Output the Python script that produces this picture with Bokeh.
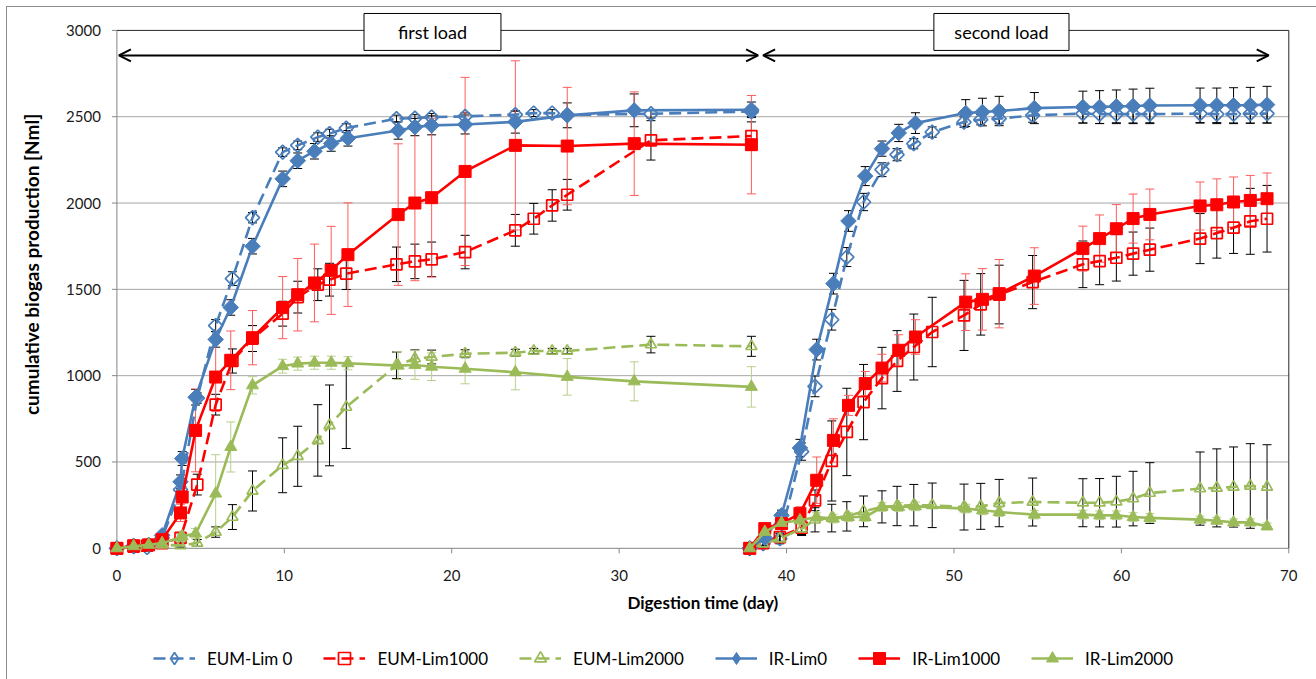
import numpy as np
from bokeh.plotting import figure
from bokeh.models import (ColumnDataSource, Whisker, TeeHead, Arrow, OpenHead,
                          Legend, LegendItem, Range1d, InlineStyleSheet)
from bokeh.core.properties import value
from bokeh.embed import file_html
from bokeh.resources import INLINE

FONT = "Lato"

x_ticks = [0, 10, 20, 30, 40, 50, 60, 70]
y_ticks = [0, 500, 1000, 1500, 2000, 2500, 3000]

# ---------------- first load ----------------
ir_days_1 = [0, 1.0, 1.9, 2.7, 3.8, 3.9, 4.7, 5.9, 6.8, 8.1, 9.9, 10.8, 11.8, 12.8, 13.8,
             16.8, 17.8, 18.8, 20.8, 23.8, 26.9, 30.9, 37.9]
eum_days_1 = [0, 1.0, 1.8, 2.7, 3.8, 4.8, 5.9, 6.9, 8.1, 9.9, 10.8, 12.0, 12.7, 13.7,
              16.7, 17.8, 18.8, 20.8, 23.8, 24.9, 26.0, 26.9, 31.9, 37.9]

ir_lim0_1 = [0, 15, 20, 75, 385, 520, 875, 1210, 1395, 1750, 2140, 2245, 2300, 2345, 2375,
             2420, 2440, 2450, 2455, 2470, 2508, 2537, 2540]
ir_lim0_err_1 = [0, 5, 5, 15, 40, 40, 45, 45, 45, 45, 45, 45, 45, 45, 45, 50, 50, 55, 55, 65,
                 72, 95, 45]
ir_lim1000_1 = [0, 15, 20, 50, 205, 297, 683, 992, 1089, 1220, 1394, 1469, 1537, 1610, 1701,
                1933, 2000, 2031, 2183, 2334, 2330, 2344, 2338]
ir_lim1000_err_1 = [0, 10, 10, 20, 50, 60, 240, 200, 170, 157, 180, 210, 225, 255, 300, 410,
                    450, 460, 545, 490, 340, 300, 285]
ir_lim2000_1 = [0, 12, 20, 30, 62, 70, 85, 317, 587, 944, 1055, 1070, 1075, 1075, 1072, 1058,
                1062, 1052, 1040, 1020, 993, 967, 935]
ir_lim2000_err_1 = [0, 5, 5, 10, 20, 20, 30, 225, 145, 50, 40, 38, 38, 38, 38, 80, 83, 80, 87,
                    102, 106, 113, 117]

eum_lim0_1 = [0, 10, 5, 60, 340, 870, 1290, 1562, 1915, 2295, 2334, 2382, 2402, 2434, 2489,
              2492, 2498, 2502, 2512, 2521, 2521, 2510, 2517, 2530]
eum_lim0_err_1 = [0, 5, 5, 10, 30, 30, 35, 40, 30, 25, 25, 25, 25, 25, 20, 20, 20, 20, 20, 20,
                  20, 20, 25, 30]
eum_lim1000_1 = [0, 10, 15, 30, 60, 369, 832, 1085, 1215, 1359, 1455, 1527, 1556, 1591, 1645,
                 1662, 1674, 1716, 1842, 1909, 1986, 2048, 2363, 2388]
eum_lim1000_err_1 = [0, 5, 5, 10, 30, 60, 60, 70, 75, 72, 92, 92, 95, 92, 100, 100, 100, 97,
                     92, 89, 91, 89, 114, 82]
eum_lim2000_1 = [0, 5, 10, 20, 17, 31, 94, 181, 332, 481, 533, 625, 712, 818, 1060, 1099, 1108,
                 1127, 1133, 1143, 1143, 1143, 1180, 1170]
eum_lim2000_err_1 = [0, 5, 5, 10, 10, 20, 30, 72, 116, 159, 174, 207, 234, 240, 77, 50, 40, 23,
                     20, 15, 15, 15, 48, 58]

# ---------------- second load ----------------
ir_days_2 = [37.8, 38.7, 39.7, 40.8, 41.8, 42.8, 43.7, 44.7, 45.7, 46.7, 47.7, 50.7, 51.7,
             52.7, 54.8, 57.7, 58.7, 59.7, 60.7, 61.7, 64.7, 65.7, 66.7, 67.7, 68.7]
eum_days_2 = [37.8, 38.6, 39.6, 40.9, 41.7, 42.7, 43.6, 44.6, 45.7, 46.6, 47.6, 48.7, 50.6,
              51.6, 52.7, 54.7, 57.7, 58.7, 59.7, 60.7, 61.7, 64.7, 65.7, 66.7, 67.7, 68.7]

ir_lim0_2 = [0, 60, 191, 581, 1151, 1533, 1896, 2156, 2315, 2406, 2463, 2521, 2527, 2533, 2550,
             2556, 2556, 2560, 2562, 2565, 2566, 2566, 2566, 2566, 2570]
ir_lim0_err_2 = [0, 20, 30, 50, 60, 60, 60, 55, 44, 50, 60, 78, 80, 85, 90, 92, 95, 95, 98, 100,
                 100, 100, 102, 104, 106]
ir_lim1000_2 = [0, 114, 143, 201, 394, 625, 828, 954, 1044, 1147, 1224, 1426, 1442, 1475, 1577,
                1736, 1794, 1851, 1910, 1934, 1983, 1990, 2006, 2015, 2025]
ir_lim1000_err_2 = [0, 20, 30, 40, 135, 125, 58, 70, 80, 90, 100, 164, 178, 198, 164, 130, 137,
                    140, 142, 147, 139, 150, 145, 145, 149]
ir_lim2000_2 = [0, 95, 147, 162, 181, 172, 181, 181, 239, 239, 243, 230, 220, 210, 195, 195, 191,
                191, 181, 176, 166, 160, 150, 150, 127]
ir_lim2000_err_2 = [0, 30, 30, 25, 25, 25, 25, 25, 25, 25, 25, 25, 25, 25, 25, 25, 25, 25, 25,
                    25, 20, 20, 20, 20, 20]

eum_lim0_2 = [0, 27, 56, 560, 938, 1324, 1687, 2006, 2193, 2280, 2344, 2411, 2469, 2483, 2489,
              2508, 2518, 2515, 2515, 2515, 2515, 2518, 2515, 2515, 2518, 2518]
eum_lim0_err_2 = [0, 10, 15, 50, 60, 60, 55, 50, 40, 35, 30, 30, 30, 30, 30, 40, 55, 55, 55, 55,
                  55, 55, 55, 55, 55, 55]
eum_lim1000_2 = [0, 30, 65, 120, 278, 506, 674, 847, 986, 1085, 1166, 1253, 1349, 1413, 1470,
                 1542, 1645, 1664, 1683, 1707, 1730, 1794, 1826, 1857, 1894, 1909]
eum_lim1000_err_2 = [0, 20, 30, 40, 60, 232, 253, 218, 178, 176, 191, 201, 203, 178, 170, 154,
                     135, 137, 135, 125, 125, 145, 145, 149, 191, 193]
eum_lim2000_2 = [0, 27, 56, 114, 165, 175, 185, 214, 240, 245, 250, 249, 239, 243, 262, 268, 264,
                 264, 270, 288, 320, 346, 350, 355, 361, 355]
eum_lim2000_err_2 = [0, 20, 30, 40, 70, 80, 85, 89, 93, 114, 120, 129, 133, 133, 137, 139, 139,
                     140, 147, 158, 176, 212, 226, 232, 245, 245]

BLUE = "#4a7ebb"
RED = "#ff0000"
GREEN = "#9bbb59"

series = [
    # label, days (load1, load2), values, errors, colour, dashed, marker, filled, error colour
    ("EUM-Lim 0", (eum_days_1, eum_days_2), (eum_lim0_1, eum_lim0_2),
     (eum_lim0_err_1, eum_lim0_err_2), BLUE, True, "diamond", False, "#000000"),
    ("EUM-Lim1000", (eum_days_1, eum_days_2), (eum_lim1000_1, eum_lim1000_2),
     (eum_lim1000_err_1, eum_lim1000_err_2), RED, True, "square", False, "#000000"),
    ("EUM-Lim2000", (eum_days_1, eum_days_2), (eum_lim2000_1, eum_lim2000_2),
     (eum_lim2000_err_1, eum_lim2000_err_2), GREEN, True, "triangle", False, "#000000"),
    ("IR-Lim0", (ir_days_1, ir_days_2), (ir_lim0_1, ir_lim0_2),
     (ir_lim0_err_1, ir_lim0_err_2), BLUE, False, "diamond", True, "#000000"),
    ("IR-Lim1000", (ir_days_1, ir_days_2), (ir_lim1000_1, ir_lim1000_2),
     (ir_lim1000_err_1, ir_lim1000_err_2), RED, False, "square", True, "#ff5c5c"),
    ("IR-Lim2000", (ir_days_1, ir_days_2), (ir_lim2000_1, ir_lim2000_2),
     (ir_lim2000_err_1, ir_lim2000_err_2), GREEN, False, "triangle", True, "#b7cf8c"),
]

# The whole canvas is the plotting frame; axes, titles and legend are drawn inside it.
W, H = 1316, 679
PX_X0, PX_X70 = 116.4, 1288.3      # canvas x of day 0 and day 70
PX_Y0, PX_Y3000 = 547.8, 29.9      # canvas y of 0 and 3000 Nml
sx = (PX_X70 - PX_X0) / 70.0
sy = (PX_Y0 - PX_Y3000) / 3000.0
x_rng = Range1d(-PX_X0 / sx, (W - PX_X0) / sx)
y_rng = Range1d(-(H - PX_Y0) / sy, PX_Y0 / sy)

p = figure(frame_width=W, frame_height=H, x_range=x_rng, y_range=y_rng,
           x_axis_location=None, y_axis_location=None,
           min_border=0, min_border_left=0, min_border_right=0, min_border_top=0,
           min_border_bottom=0, toolbar_location=None, output_backend="svg")
p.outline_line_color = None
p.xgrid.visible = False
p.ygrid.visible = False
p.background_fill_color = "white"
p.border_fill_color = "white"
# thin grey frame around the whole chart area
p.stylesheets = [InlineStyleSheet(css=(
    ":host { position: relative; }"
    ":host::after { content: ''; position: absolute; left: 6px; top: 6px; right: 0px;"
    " bottom: 0px; border-left: 1px solid #8c8c8c; border-top: 1px solid #8c8c8c;"
    " pointer-events: none; z-index: 100; }"))]


def px_x(n):
    return n / sx


def px_y(n):
    return n / sy


AX = "#868686"
x_max = x_ticks[-1]
y_max = y_ticks[-1]
inner = y_ticks[1:-1]
# gridlines, axis lines, plot-area border and tick marks
p.segment(x0=[0] * len(inner), y0=inner, x1=[x_max] * len(inner), y1=inner,
          line_color="#a6a6a6", line_width=1, level="image")
p.segment(x0=[0, 0], y0=[0, 0], x1=[x_max, 0], y1=[0, y_max], line_color=AX, line_width=1,
          level="image")
p.segment(x0=[0, x_max], y0=[y_max, 0], x1=[x_max, x_max], y1=[y_max, y_max],
          line_color="#262626", line_width=1, level="image")
p.segment(x0=x_ticks, y0=[0] * len(x_ticks), x1=x_ticks, y1=[-px_y(5)] * len(x_ticks),
          line_color=AX, line_width=1, level="image")
p.segment(x0=[0] * len(y_ticks), y0=y_ticks, x1=[-px_x(5)] * len(y_ticks), y1=y_ticks,
          line_color=AX, line_width=1, level="image")

# tick labels
p.text(x=x_ticks, y=[-px_y(27)] * len(x_ticks), text=[str(t) for t in x_ticks],
       text_align="center", text_baseline="middle", text_font=value(FONT),
       text_font_size="15px", text_color="#1a1a1a")
p.text(x=[-px_x(16)] * len(y_ticks), y=y_ticks, text=[str(t) for t in y_ticks],
       text_align="right", text_baseline="middle", text_font=value(FONT),
       text_font_size="15px", text_color="#1a1a1a")

# axis titles
p.text(x=[x_max / 2], y=[-px_y(54)], text=["Digestion time (day)"], text_align="center",
       text_baseline="middle", text_font=value(FONT), text_font_size="17px",
       text_font_style="bold", text_color="#000000")
p.text(x=[-px_x(85)], y=[px_y(PX_Y0 - 264)], text=["cumulative biogas production [Nml]"],
       angle=np.pi / 2, text_align="center", text_baseline="middle", text_font=value(FONT),
       text_font_size="19px", text_font_style="bold", text_color="#000000")

# error bars first, under the series
for label, days, vals, errs, color, dashed, marker, filled, ecol in series:
    for d, v, e in zip(days, vals, errs):
        keep = [(a, b, c) for a, b, c in zip(d, v, e) if c > 0]
        src = ColumnDataSource(dict(x=[k[0] for k in keep],
                                    lower=[k[1] - k[2] for k in keep],
                                    upper=[k[1] + k[2] for k in keep]))
        p.add_layout(Whisker(source=src, base="x", lower="lower", upper="upper",
                             line_color=ecol, line_width=1, level="underlay",
                             upper_head=TeeHead(size=9, line_color=ecol, line_width=1),
                             lower_head=TeeHead(size=9, line_color=ecol, line_width=1)))

DASH = "12 6"
# legend swatches get their own renderers, parked outside the visible ranges
OFF_X = [x_rng.start - 100, x_rng.start - 99]
OFF_Y = [y_rng.start - 1000, y_rng.start - 1000]
items = []
for label, days, vals, errs, color, dashed, marker, filled, ecol in series:
    dash = DASH if dashed else "solid"
    fill = dict(fill_color=color, line_width=1) if filled else dict(fill_color=None, line_width=1.7)
    for d, v in zip(days, vals):
        src = ColumnDataSource(dict(x=d, y=v))
        p.line("x", "y", source=src, line_color=color, line_width=2.6, line_dash=dash)
        kw = dict(source=src, line_color=color, **fill)
        if marker == "diamond":
            kw.update(marker="square", angle=np.pi / 4, size=11 if filled else 10)
        elif marker == "square":
            kw.update(marker="square", size=12 if filled else 11)
        else:
            kw.update(marker="triangle", size=12 if filled else 11)
        p.scatter("x", "y", **kw)
    lg_line = p.line(x=OFF_X, y=OFF_Y, line_color=color, line_width=2.6, line_dash=dash)
    lg_mark = p.scatter(x=OFF_X[:1], y=OFF_Y[:1], marker=marker,
                        size=12 if marker == "diamond" else 10, line_color=color, **fill)
    items.append(LegendItem(label=label, renderers=[lg_line, lg_mark]))

# load markers: double-headed arrows with boxed captions
ARROW_Y = 2855
for x0, x1 in ((0.12, 38.3), (38.6, 68.8)):
    p.add_layout(Arrow(x_start=x0, y_start=ARROW_Y, x_end=x1, y_end=ARROW_Y,
                       line_color="black", line_width=2,
                       start=OpenHead(size=12, line_width=2, line_color="black"),
                       end=OpenHead(size=12, line_width=2, line_color="black")))

box_left = [14.76, 48.8]
box_right = [22.94, 56.87]
box_text = ["first load", "second load"]
p.quad(left=box_left, right=box_right, bottom=[2884, 2884], top=[3098, 3098],
       fill_color="white", line_color="black", line_width=1)
p.text(x=[(a + b) / 2 for a, b in zip(box_left, box_right)], y=[2991, 2991], text=box_text,
       text_align="center", text_baseline="middle", text_font=value(FONT),
       text_font_size="18px", text_color="#000000")

# legend row along the bottom of the chart
legend = Legend(items=items, orientation="horizontal", location=(153, 6),
                border_line_color=None, background_fill_alpha=0,
                label_text_font=FONT, label_text_font_size="17px", label_text_color="#000000",
                glyph_width=42, glyph_height=30, label_standoff=12, spacing=31,
                padding=4, margin=0)
p.add_layout(legend)

open("out.html", "w").write(file_html(p, INLINE))
